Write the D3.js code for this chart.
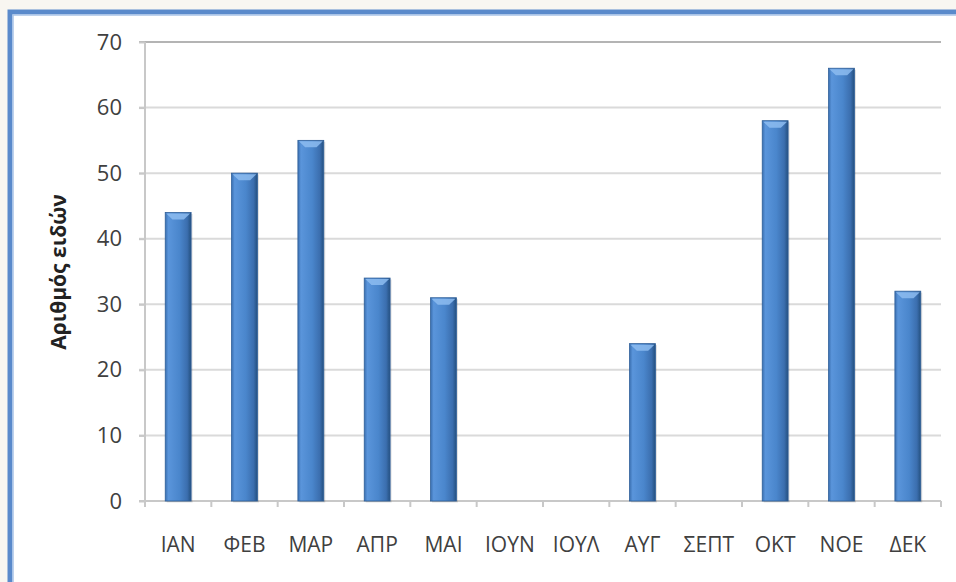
<!DOCTYPE html>
<html lang="el">
<head>
    <meta charset="UTF-8">
    <title>Αριθμός ειδών ανά μήνα</title>
    <style>
        body {
            margin: 0;
            background: #f8f6f1;
            font-family: 'Open Sans', 'Noto Sans', sans-serif;
        }
        svg { display: block; }
    </style>
</head>
<body>
    <svg id="chart" width="956" height="582"></svg>

    <script src="https://d3js.org/d3.v7.min.js"></script>
    <script>
        const months = ['ΙΑΝ', 'ΦΕΒ', 'ΜΑΡ', 'ΑΠΡ', 'ΜΑΙ', 'ΙΟΥΝ', 'ΙΟΥΛ', 'ΑΥΓ', 'ΣΕΠΤ', 'ΟΚΤ', 'ΝΟΕ', 'ΔΕΚ'];
        const counts = [44, 50, 55, 34, 31, 0, 0, 24, 0, 58, 66, 32];
        const yTicks = [0, 10, 20, 30, 40, 50, 60, 70];
        const yTitle = 'Αριθμός ειδών';

        const svg = d3.select('#chart');
        const margin = { left: 145, right: 15, top: 42, bottom: 81 };
        const width = 956 - margin.left - margin.right;
        const height = 582 - margin.top - margin.bottom;

        // frame of the chart area
        svg.append('rect')
            .attr('x', 10).attr('y', 12)
            .attr('width', 1000).attr('height', 700)
            .attr('fill', '#ffffff')
            .attr('stroke', '#5a8acb')
            .attr('stroke-width', 5);
        svg.append('rect')
            .attr('x', 13).attr('y', 15)
            .attr('width', 1000).attr('height', 700)
            .attr('fill', 'none')
            .attr('stroke', '#a9c4e8')
            .attr('stroke-width', 1.5);

        const defs = svg.append('defs');
        const grad = defs.append('linearGradient')
            .attr('id', 'barGrad')
            .attr('x1', '0%').attr('x2', '100%').attr('y1', '0%').attr('y2', '0%');
        grad.append('stop').attr('offset', '0%').attr('stop-color', '#3a6fb0');
        grad.append('stop').attr('offset', '12%').attr('stop-color', '#5a95db');
        grad.append('stop').attr('offset', '55%').attr('stop-color', '#4a86cc');
        grad.append('stop').attr('offset', '85%').attr('stop-color', '#3b6eae');
        grad.append('stop').attr('offset', '100%').attr('stop-color', '#24507f');

        const g = svg.append('g')
            .attr('transform', `translate(${margin.left},${margin.top})`);

        const x = d3.scaleBand()
            .domain(months)
            .range([0, width])
            .paddingInner(0.61)
            .paddingOuter(0.305);

        const y = d3.scaleLinear()
            .domain([0, 70])
            .range([height, 0]);

        // gridlines
        g.append('g')
            .selectAll('line')
            .data(yTicks.filter(d => d > 0))
            .join('line')
            .attr('x1', -6).attr('x2', width)
            .attr('y1', d => y(d)).attr('y2', d => y(d))
            .attr('stroke', d => d === 70 ? '#b4b4b4' : '#dadada')
            .attr('stroke-width', 2);

        // y axis
        const yAxis = g.append('g')
            .call(d3.axisLeft(y).tickValues(yTicks).tickSize(6).tickPadding(17));
        yAxis.select('.domain').attr('stroke', '#c8c8c8').attr('stroke-width', 2)
            .attr('d', `M0,${y(70)}V${height}`);
        yAxis.selectAll('.tick line').attr('stroke', '#c8c8c8').attr('stroke-width', 2);
        yAxis.selectAll('.tick text')
            .attr('font-size', 22)
            .attr('fill', '#404040')
            .attr('font-family', "'Open Sans', sans-serif");

        // x axis with ticks between categories
        const xAxisG = g.append('g').attr('transform', `translate(0,${height})`);
        xAxisG.append('line')
            .attr('x1', -6).attr('x2', width)
            .attr('stroke', '#c8c8c8').attr('stroke-width', 2);
        const step = x.step();
        xAxisG.selectAll('.sep')
            .data(d3.range(months.length + 1))
            .join('line')
            .attr('class', 'sep')
            .attr('x1', i => i * step).attr('x2', i => i * step)
            .attr('y1', 0).attr('y2', 6)
            .attr('stroke', '#c8c8c8').attr('stroke-width', 2);
        xAxisG.selectAll('.lbl')
            .data(months)
            .join('text')
            .attr('class', 'lbl')
            .attr('x', d => x(d) + x.bandwidth() / 2)
            .attr('y', 51)
            .attr('text-anchor', 'middle')
            .attr('font-size', 21)
            .attr('fill', '#404040')
            .text(d => d);

        // bars
        const data = months.map((m, i) => ({ m, v: counts[i] }));
        const bars = g.append('g')
            .selectAll('g')
            .data(data.filter(d => d.v > 0))
            .join('g');

        bars.append('rect')
            .attr('x', d => x(d.m) + 1.5)
            .attr('y', d => y(d.v) + 1.5)
            .attr('width', x.bandwidth())
            .attr('height', d => height - y(d.v))
            .attr('fill', '#000')
            .attr('opacity', 0.12);

        bars.append('rect')
            .attr('x', d => x(d.m))
            .attr('y', d => y(d.v))
            .attr('width', x.bandwidth())
            .attr('height', d => height - y(d.v))
            .attr('fill', 'url(#barGrad)')
            .attr('stroke', '#2f5f99')
            .attr('stroke-width', 0.8);

        // light bevel at the top of each bar
        bars.append('path')
            .attr('d', d => {
                const x0 = x(d.m), bw = x.bandwidth(), t = y(d.v);
                return `M${x0 + 1},${t + 1}H${x0 + bw - 1}L${x0 + bw * 0.72},${t + 7}H${x0 + bw * 0.28}Z`;
            })
            .attr('fill', '#8dbcf0')
            .attr('opacity', 0.85);

        // y title
        svg.append('text')
            .attr('transform', 'translate(66,272) rotate(-90)')
            .attr('text-anchor', 'middle')
            .attr('font-size', 21)
            .attr('font-weight', 'bold')
            .attr('fill', '#222')
            .text(yTitle);
    </script>
</body>
</html>
